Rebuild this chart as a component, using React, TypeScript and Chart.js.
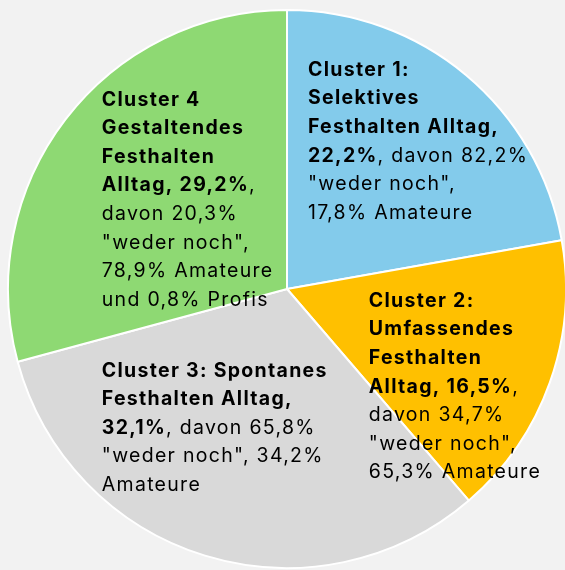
import React, { useEffect, useRef } from "react";
import { Chart, registerables } from "chart.js";

Chart.register(...registerables);

// ---- data ----
const categories = ["Cluster 1", "Cluster 2", "Cluster 3", "Cluster 4"];
const shares = [22.2, 16.5, 32.1, 29.2];
const sliceColors = ["#83CBEB", "#FFC000", "#D9D9D9", "#8ED973"];

// label text; **...** marks bold runs
const cluster1Lines = [
  "**Cluster 1:**",
  "**Selektives**",
  "**Festhalten Alltag,**",
  "**22,2%**, davon 82,2%",
  "\"weder noch\",",
  "17,8% Amateure",
];
const cluster2Lines = [
  "**Cluster 2:**",
  "**Umfassendes**",
  "**Festhalten**",
  "**Alltag, 16,5%**,",
  "davon 34,7%",
  "\"weder noch\",",
  "65,3% Amateure",
];
const cluster3Lines = [
  "**Cluster 3: Spontanes**",
  "**Festhalten Alltag,**",
  "**32,1%**, davon 65,8%",
  "\"weder noch\", 34,2%",
  "Amateure",
];
const cluster4Lines = [
  "**Cluster 4**",
  "**Gestaltendes**",
  "**Festhalten**",
  "**Alltag, 29,2%**,",
  "davon 20,3%",
  "\"weder noch\",",
  "78,9% Amateure",
  "und 0,8% Profis",
];
const labelLines = [cluster1Lines, cluster2Lines, cluster3Lines, cluster4Lines];

// ---- layout (relative to pie centre, in units of radius) ----
const labelAnchors = [
  [0.075, -0.764],
  [0.293, 0.064],
  [-0.664, 0.314],
  [-0.664, -0.657],
];
const FONT_SIZE = 19.5;
const LETTER_SPACING = "1.3px";
const LINE_HEIGHT = 28.6;
const FONT_FAMILY = "Inter, 'Open Sans', sans-serif";

function parseRuns(line: string) {
  const runs: { text: string; bold: boolean }[] = [];
  const parts = line.split("**");
  parts.forEach((p, i) => {
    if (p.length) runs.push({ text: p, bold: i % 2 === 1 });
  });
  return runs;
}

const labelPlugin = {
  id: "sliceLabels",
  afterDatasetsDraw(chart: any) {
    const meta = chart.getDatasetMeta(0);
    const ctx = chart.ctx as any;
    ctx.save();
    ctx.fillStyle = "#000000";
    ctx.textBaseline = "alphabetic";
    ctx.textAlign = "left";
    ctx.letterSpacing = LETTER_SPACING;
    meta.data.forEach((el: any, i: number) => {
      const { x, y, outerRadius } = el.getProps(["x", "y", "outerRadius"], true);
      const [ax, ay] = labelAnchors[i];
      const left = x + ax * outerRadius;
      let base = y + ay * outerRadius;
      labelLines[i].forEach((line) => {
        let cx = left;
        parseRuns(line).forEach((run) => {
          ctx.font = `${run.bold ? "bold " : ""}${FONT_SIZE}px ${FONT_FAMILY}`;
          ctx.fillText(run.text, cx, base);
          cx += ctx.measureText(run.text).width;
        });
        base += LINE_HEIGHT;
      });
    });
    ctx.restore();
  },
};

export default function App() {
  const canvasRef = useRef<HTMLCanvasElement | null>(null);

  useEffect(() => {
    document.body.style.margin = "0";
    document.body.style.overflow = "hidden";
    const canvas = canvasRef.current;
    if (!canvas) return;
    const chart = new Chart(canvas, {
      type: "pie",
      data: {
        labels: categories,
        datasets: [
          {
            data: shares,
            backgroundColor: sliceColors,
            borderColor: "#FFFFFF",
            borderWidth: 2,
            hoverOffset: 0,
          },
        ],
      },
      options: {
        responsive: false,
        animation: false,
        devicePixelRatio: 1,
        layout: { padding: { left: 7, right: 7, top: 9, bottom: 9 } },
        plugins: {
          legend: { display: false },
          tooltip: { enabled: false },
        },
        events: [],
      },
      plugins: [labelPlugin],
    });
    return () => chart.destroy();
  }, []);

  return (
    <div
      style={{
        position: "fixed",
        left: 0,
        top: 0,
        width: 565,
        height: 570,
        overflow: "hidden",
        background: "#F2F2F2",
      }}
    >
      <canvas
        ref={canvasRef}
        width={574}
        height={578}
        style={{ display: "block", width: 574, height: 578 }}
      />
    </div>
  );
}
